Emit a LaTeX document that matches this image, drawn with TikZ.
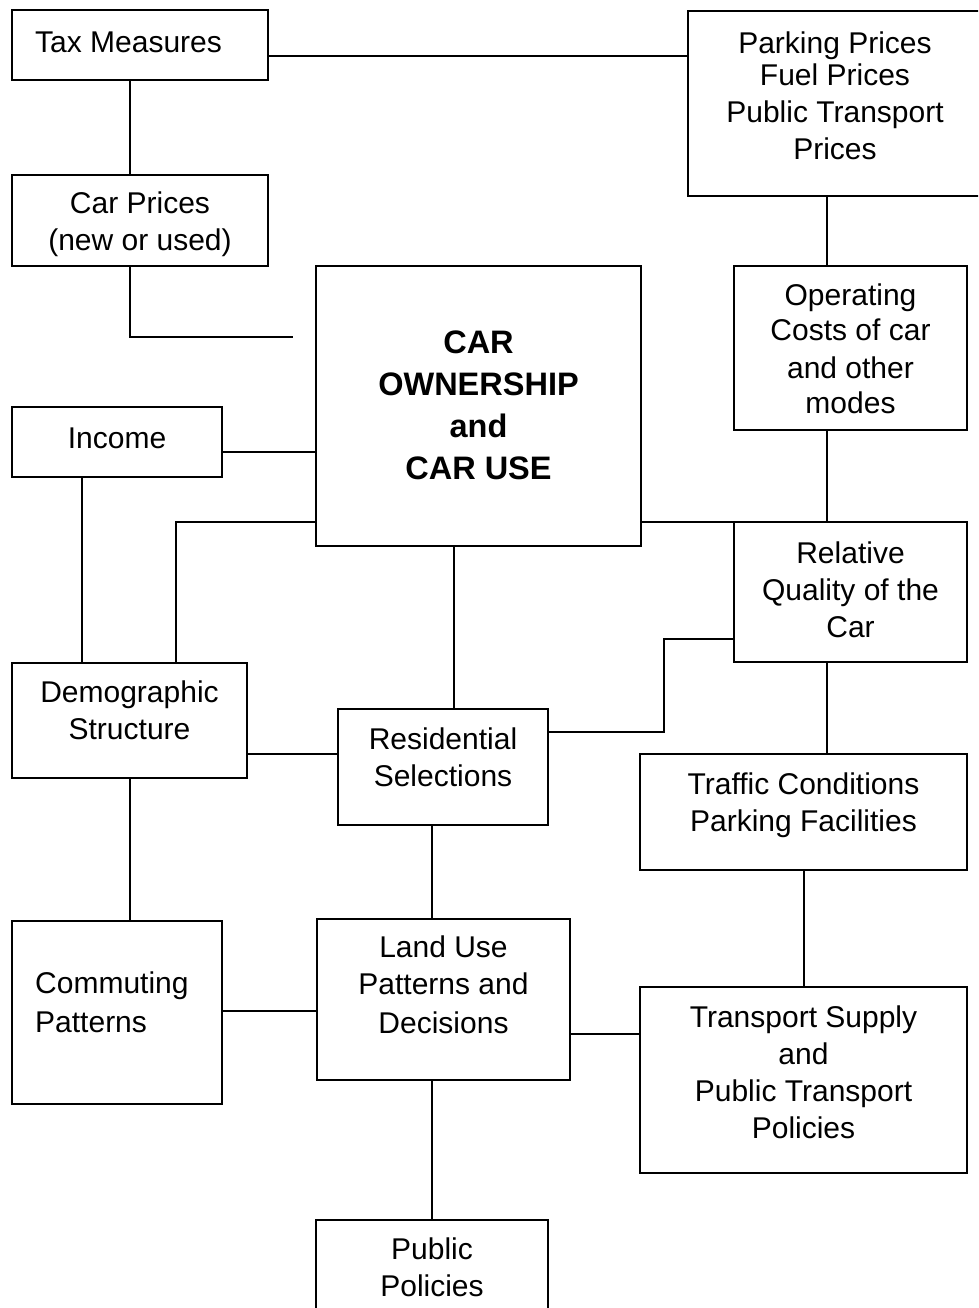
\documentclass[tikz,border=0pt]{standalone}
\usepackage{fontspec}
\setmainfont{Liberation Sans}
\usetikzlibrary{fit}
\newcommand{\boxfont}{\fontsize{30}{37}\selectfont}
\newcommand{\corefont}{\fontsize{32.5}{42}\selectfont\bfseries}
\begin{document}
\begin{tikzpicture}[x=1pt,y=-1pt,
  box/.style={draw, line width=2pt, inner sep=0pt, outer sep=0pt},
  lbl/.style={anchor=north, yshift=#1, align=center, inner sep=0pt, font=\boxfont},
  lbl/.default=-19pt,
  lblleft/.style={anchor=north west, xshift=23pt, yshift=#1, align=left, inner sep=0pt, font=\boxfont},
  corelbl/.style={anchor=center, yshift=#1, align=center, inner sep=0pt, font=\corefont},
  link/.style={line width=2pt}]
\useasboundingbox (0,0) rectangle (978,1308);
\clip (0,0) rectangle (978,1308);
\fill[white] (0,0) rectangle (978,1308);

% boxes
\node[box, fit={(12,10) (268,80)},
  label={[lblleft=-21.5pt]north west:Tax Measures}] (tax) {};
\node[box, fit={(688,11) (982,196)},
  label={[lbl=-20.5pt]north:Parking Prices\\[-5pt]Fuel Prices\\Public Transport\\Prices}] (park) {};
\node[box, fit={(12,175) (268,266)},
  label={[lbl=-16.5pt]north:Car Prices\\(new or used)}] (carp) {};
\node[box, fit={(316,266) (641,546)},
  label={[corelbl=1pt]center:CAR\\OWNERSHIP\\and\\CAR USE}] (car) {};
\node[box, fit={(734,266) (967,430)},
  label={[lbl=-18pt]north:Operating\\[-2pt]Costs of car\\[1pt]and other\\[-2pt]modes}] (opc) {};
\node[box, fit={(12,407) (222,477)},
  label={[lbl=-21pt]north:Income}] (inc) {};
\node[box, fit={(734,522) (967,662)},
  label={[lbl=-19.5pt]north:Relative\\Quality of the\\Car}] (rel) {};
\node[box, fit={(12,663) (247,778)},
  label={[lbl=-18pt]north:Demographic\\Structure}] (demo) {};
\node[box, fit={(338,709) (548,825)},
  label={[lbl=-19pt]north:Residential\\Selections}] (res) {};
\node[box, fit={(640,754) (967,870)},
  label={[lbl=-19pt]north:Traffic Conditions\\Parking Facilities}] (traf) {};
\node[box, fit={(12,921) (222,1104)},
  label={[lblleft=-51pt]north west:Commuting\\[2pt]Patterns}] (comm) {};
\node[box, fit={(317,919) (570,1080)},
  label={[lbl=-17pt]north:Land Use\\Patterns and\\[2pt]Decisions}] (land) {};
\node[box, fit={(640,987) (967,1173)},
  label={[lbl=-19pt]north:Transport Supply\\and\\Public Transport\\Policies}] (trans) {};
\node[box, fit={(316,1220) (548,1330)},
  label={[lbl=-18pt]north:Public\\Policies}] (pub) {};

% guide positions for the connectors
\coordinate (gx82) at (82,0);
\coordinate (gx130) at (130,0);
\coordinate (gx176) at (176,0);
\coordinate (gx432) at (432,0);
\coordinate (gx454) at (454,0);
\coordinate (gx664) at (664,0);
\coordinate (gx804) at (804,0);
\coordinate (gx827) at (827,0);
\coordinate (gy56) at (0,56);
\coordinate (gy452) at (0,452);
\coordinate (gy522) at (0,522);
\coordinate (gy639) at (0,639);
\coordinate (gy732) at (0,732);
\coordinate (gy754) at (0,754);
\coordinate (gy1011) at (0,1011);
\coordinate (gy1034) at (0,1034);
\coordinate (cpEnd) at (293,337);

% connectors
\draw[link] (tax.east |- gy56) -- (park.west |- gy56);
\draw[link] (tax.south -| gx130) -- (carp.north -| gx130);
\draw[link] (carp.south -| gx130) |- (cpEnd);
\draw[link] (park.south -| gx827) -- (opc.north -| gx827);
\draw[link] (opc.south -| gx827) -- (rel.north -| gx827);
\draw[link] (rel.south -| gx827) -- (traf.north -| gx827);
\draw[link] (inc.east |- gy452) -- (car.west |- gy452);
\draw[link] (inc.south -| gx82) -- (demo.north -| gx82);
\draw[link] (car.west |- gy522) -| (demo.north -| gx176);
\draw[link] (car.east |- gy522) -- (rel.north west);
\draw[link] (car.south -| gx454) -- (res.north -| gx454);
\draw[link] (res.east |- gy732) -| (gx664 |- gy639) -- (rel.west |- gy639);
\draw[link] (demo.east |- gy754) -- (res.west |- gy754);
\draw[link] (demo.south -| gx130) -- (comm.north -| gx130);
\draw[link] (res.south -| gx432) -- (land.north -| gx432);
\draw[link] (land.south -| gx432) -- (pub.north -| gx432);
\draw[link] (traf.south -| gx804) -- (trans.north -| gx804);
\draw[link] (comm.east |- gy1011) -- (land.west |- gy1011);
\draw[link] (land.east |- gy1034) -- (trans.west |- gy1034);
\end{tikzpicture}
\end{document}
